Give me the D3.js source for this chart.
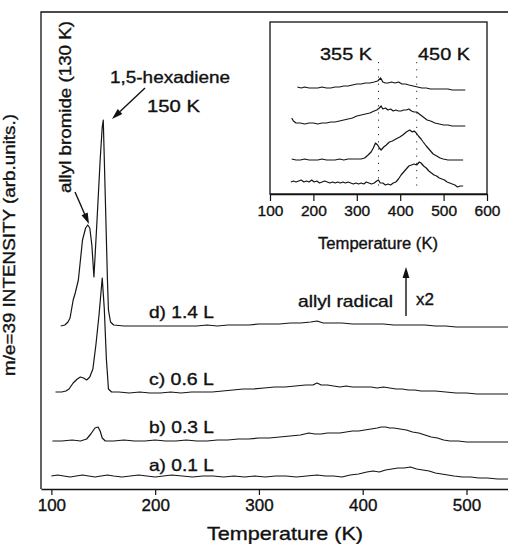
<!DOCTYPE html>
<html>
<head>
<meta charset="utf-8">
<script src="https://cdn.jsdelivr.net/npm/d3@7"></script>
<style>
  body { margin: 0; background: #fff; }
  svg { display: block; }
  text { font-family: "Liberation Sans", Arial, sans-serif; fill: #111; stroke: #111; stroke-width: 0.35px; }
</style>
</head>
<body>
<script>
'use strict'

// ---- main panel: m/e=39 TPD traces (temperature K, intensity arb. units incl. offset)
const traceA = [[100,0.13],[106,0.14],[112,0.13],[118,0.12],[124,0.13],[130,0.14],[136,0.13],[142,0.12],[148,0.13],[154,0.14],[160,0.13],[168,0.12],[176,0.13],[184,0.14],[192,0.13],[200,0.12],[208,0.13],[216,0.14],[226,0.13],[236,0.12],[246,0.13],[256,0.13],[266,0.12],[276,0.13],[286,0.12],[296,0.13],[306,0.12],[316,0.13],[326,0.13],[336,0.12],[346,0.13],[356,0.14],[364,0.13],[372,0.13],[380,0.12],[388,0.14],[396,0.15],[404,0.17],[410,0.18],[416,0.17],[422,0.19],[428,0.20],[434,0.21],[440,0.21],[446,0.22],[452,0.20],[458,0.19],[464,0.18],[470,0.16],[476,0.15],[482,0.14],[488,0.13],[496,0.12],[504,0.12],[512,0.11],[520,0.11],[530,0.10],[540,0.10]]

const traceB = [[101,0.48],[110,0.48],[120,0.49],[128,0.48],[134,0.50],[138,0.55],[142,0.61],[145,0.62],[147,0.58],[149,0.51],[152,0.48],[160,0.48],[170,0.49],[180,0.48],[190,0.48],[200,0.49],[210,0.48],[220,0.48],[230,0.49],[240,0.48],[250,0.48],[260,0.49],[270,0.49],[280,0.50],[290,0.50],[300,0.51],[310,0.51],[320,0.52],[330,0.53],[340,0.54],[348,0.56],[354,0.55],[360,0.55],[366,0.56],[372,0.56],[378,0.56],[384,0.57],[390,0.58],[396,0.58],[402,0.59],[408,0.60],[414,0.61],[418,0.62],[422,0.62],[426,0.61],[430,0.61],[436,0.60],[442,0.59],[448,0.57],[454,0.56],[460,0.54],[466,0.52],[472,0.51],[478,0.49],[484,0.48],[492,0.48],[500,0.47],[510,0.47],[520,0.47],[530,0.47],[540,0.47]]

const traceC = [[104,0.97],[110,0.97],[114,0.98],[117,1.00],[121,1.06],[125,1.10],[128,1.12],[131,1.11],[134,1.09],[137,1.12],[140,1.20],[143,1.45],[146,1.75],[149,2.11],[151,1.80],[153,1.30],[155,1.00],[158,0.97],[165,0.97],[175,0.96],[185,0.97],[195,0.96],[205,0.96],[215,0.97],[225,0.96],[235,0.97],[245,0.97],[255,0.97],[265,0.98],[275,0.99],[285,1.00],[295,1.00],[305,1.01],[315,1.02],[325,1.02],[335,1.03],[345,1.04],[352,1.04],[356,1.06],[360,1.04],[366,1.04],[372,1.03],[378,1.02],[384,1.03],[390,1.02],[396,1.02],[402,1.02],[408,1.02],[414,1.01],[420,1.02],[426,1.01],[432,1.00],[438,1.00],[444,0.99],[450,0.99],[456,0.98],[462,0.98],[470,0.98],[480,0.97],[490,0.96],[500,0.96],[510,0.95],[520,0.95],[530,0.95],[540,0.95]]

const traceD = [[109,1.63],[113,1.64],[116,1.67],[118,1.71],[121,1.89],[123,1.96],[126,2.09],[128,2.29],[130,2.49],[133,2.61],[135,2.64],[137,2.61],[139,2.44],[141,2.12],[144,2.69],[147,3.29],[149,3.62],[150,3.69],[152,2.90],[154,2.10],[155,1.79],[157,1.67],[160,1.64],[170,1.63],[180,1.63],[190,1.63],[200,1.63],[210,1.63],[220,1.63],[230,1.63],[240,1.63],[250,1.64],[260,1.63],[270,1.64],[280,1.64],[290,1.64],[300,1.65],[310,1.65],[320,1.65],[330,1.66],[340,1.66],[350,1.67],[356,1.68],[362,1.66],[370,1.66],[380,1.66],[390,1.65],[400,1.65],[410,1.65],[420,1.65],[430,1.64],[440,1.64],[450,1.64],[460,1.64],[470,1.63],[480,1.63],[490,1.62],[500,1.62],[510,1.62],[520,1.62],[530,1.62],[540,1.62]]

const traceLabels = ['a) 0.1 L', 'b) 0.3 L', 'c) 0.6 L', 'd) 1.4 L']
const labelLevels = [0.18, 0.56, 1.04, 1.71]   // intensity level the label sits on
const xTicks = [100, 200, 300, 400, 500]

// ---- inset: allyl radical region (x2)
const inset1 = [[163,1.07],[172,1.06],[180,1.07],[190,1.06],[200,1.06],[210,1.06],[220,1.07],[230,1.06],[240,1.06],[250,1.07],[260,1.07],[270,1.08],[280,1.08],[290,1.09],[300,1.10],[310,1.10],[320,1.11],[330,1.11],[340,1.12],[348,1.13],[355,1.16],[360,1.12],[366,1.11],[372,1.11],[380,1.12],[388,1.11],[396,1.12],[404,1.10],[412,1.10],[420,1.09],[430,1.08],[440,1.07],[450,1.06],[460,1.06],[470,1.05],[480,1.05],[490,1.05],[500,1.05],[510,1.05],[520,1.04],[530,1.04],[540,1.04],[550,1.04]]

const inset2 = [[150,0.76],[154,0.73],[160,0.71],[170,0.71],[180,0.70],[190,0.71],[200,0.71],[210,0.70],[220,0.71],[230,0.71],[240,0.72],[250,0.72],[260,0.73],[270,0.74],[280,0.75],[290,0.76],[300,0.78],[310,0.79],[320,0.80],[330,0.81],[340,0.83],[346,0.84],[352,0.86],[356,0.88],[360,0.85],[366,0.86],[372,0.84],[378,0.85],[384,0.83],[390,0.84],[396,0.83],[402,0.83],[408,0.84],[414,0.84],[420,0.85],[426,0.83],[432,0.82],[438,0.82],[444,0.80],[450,0.78],[456,0.76],[462,0.74],[470,0.73],[480,0.71],[490,0.70],[500,0.69],[510,0.69],[520,0.68],[530,0.68],[540,0.68],[550,0.68]]

const inset3 = [[150,0.35],[160,0.34],[170,0.34],[180,0.35],[190,0.34],[200,0.34],[210,0.34],[220,0.35],[230,0.34],[240,0.34],[250,0.34],[260,0.35],[270,0.34],[280,0.35],[290,0.35],[300,0.35],[310,0.35],[318,0.36],[326,0.39],[333,0.42],[338,0.46],[343,0.51],[348,0.49],[352,0.46],[356,0.44],[362,0.47],[368,0.49],[375,0.52],[382,0.53],[390,0.55],[399,0.57],[406,0.59],[414,0.62],[418,0.63],[422,0.64],[428,0.62],[432,0.63],[437,0.61],[442,0.58],[448,0.55],[453,0.52],[460,0.48],[468,0.44],[476,0.40],[484,0.38],[492,0.36],[499,0.35],[510,0.34],[520,0.34],[530,0.34],[545,0.34]]

const inset4 = [[148,0.12],[154,0.13],[160,0.12],[166,0.13],[172,0.14],[178,0.12],[184,0.13],[190,0.12],[196,0.14],[202,0.12],[208,0.13],[214,0.11],[220,0.12],[226,0.13],[232,0.12],[238,0.11],[244,0.12],[250,0.11],[256,0.12],[262,0.11],[268,0.12],[274,0.11],[280,0.12],[286,0.11],[292,0.10],[298,0.11],[304,0.10],[310,0.11],[316,0.10],[322,0.12],[328,0.11],[334,0.10],[340,0.11],[346,0.13],[350,0.14],[354,0.11],[360,0.11],[366,0.09],[372,0.10],[378,0.09],[384,0.11],[390,0.12],[396,0.15],[402,0.19],[408,0.22],[414,0.25],[420,0.28],[426,0.29],[432,0.30],[438,0.29],[444,0.32],[448,0.31],[454,0.28],[460,0.26],[466,0.23],[472,0.21],[478,0.19],[484,0.18],[490,0.16],[496,0.15],[502,0.14],[508,0.12],[514,0.11],[520,0.10],[526,0.09],[532,0.07],[538,0.08],[545,0.08]]

const insetTicks = [100, 200, 300, 400, 500, 600]
const peakLines = [350, 438]          // dotted markers as drawn
const peakLabels = ['355 K', '450 K']

const W = 508, H = 544
const FONT = '"Liberation Sans", Arial, sans-serif'

const svg = d3.select('body').append('svg')
  .attr('width', W).attr('height', H)

svg.append('rect').attr('width', W).attr('height', H).attr('fill', '#fff')

// scales
const x = d3.scaleLinear().domain([90, 540]).range([41, 508])
const y = d3.scaleLinear().domain([0, 4.77]).range([489, 12])
const xi = d3.scaleLinear().domain([100, 600]).range([270, 487])
const yi = d3.scaleLinear().domain([0, 1.72]).range([194, 22])

const line = d3.line().x(d => x(d[0])).y(d => y(d[1]))
const lineI = d3.line().x(d => xi(d[0])).y(d => yi(d[1]))

// frame (no right border, it runs off the page)
svg.append('path')
  .attr('d', `M${W},${y.range()[1]}H${x.range()[0]}V${y.range()[0]}`)
  .attr('fill', 'none').attr('stroke', '#111').attr('stroke-width', 1.3)

const xAxis = svg.append('g')
  .attr('transform', `translate(0,${y.range()[0]})`)
  .call(d3.axisBottom(x).tickValues(xTicks).tickSize(6).tickSizeOuter(0).tickPadding(4))
xAxis.select('.domain').attr('stroke', '#111').attr('stroke-width', 1.3)
xAxis.selectAll('.tick line').attr('stroke', '#111').attr('stroke-width', 1.2)
xAxis.selectAll('.tick text').attr('font-family', FONT).attr('font-size', 17).attr('fill', '#111')

// traces
const traces = [traceA, traceB, traceC, traceD]
svg.append('g').selectAll('path').data(traces).enter().append('path')
  .attr('d', line)
  .attr('fill', 'none').attr('stroke', '#151515').attr('stroke-width', 1.2)
  .attr('stroke-linejoin', 'round')

svg.append('g').selectAll('text').data(traceLabels).enter().append('text')
  .attr('x', x(194))
  .attr('y', (d, i) => y(labelLevels[i]))
  .attr('font-size', 16.5)
  .attr('textLength', 65).attr('lengthAdjust', 'spacingAndGlyphs')
  .text(d => d)

// axis titles
svg.append('text')
  .attr('x', 285).attr('y', 540)
  .attr('text-anchor', 'middle').attr('font-size', 19)
  .attr('textLength', 156).attr('lengthAdjust', 'spacingAndGlyphs')
  .text('Temperature (K)')

svg.append('text')
  .attr('transform', 'translate(15,245) rotate(-90)')
  .attr('text-anchor', 'middle').attr('font-size', 17)
  .attr('textLength', 262).attr('lengthAdjust', 'spacingAndGlyphs')
  .text('m/e=39 INTENSITY (arb.units.)')

// annotations
const arrow = (g, x1, y1, x2, y2, head) => {
  const a = Math.atan2(y2 - y1, x2 - x1)
  const len = head || 10, wid = 3.4
  const bx = x2 - len * Math.cos(a), by = y2 - len * Math.sin(a)
  g.append('line')
    .attr('x1', x1).attr('y1', y1).attr('x2', bx).attr('y2', by)
    .attr('stroke', '#111').attr('stroke-width', 1.4)
  g.append('polygon')
    .attr('points', [
      [x2, y2],
      [bx + wid * Math.sin(a), by - wid * Math.cos(a)],
      [bx - wid * Math.sin(a), by + wid * Math.cos(a)]
    ].map(p => p.join(',')).join(' '))
    .attr('fill', '#111')
}

const notes = svg.append('g')
notes.append('text')
  .attr('x', 110).attr('y', 83).attr('font-size', 16.5)
  .attr('textLength', 120).attr('lengthAdjust', 'spacingAndGlyphs')
  .text('1,5-hexadiene')
notes.append('text')
  .attr('x', 147).attr('y', 112).attr('font-size', 16.5)
  .attr('textLength', 53).attr('lengthAdjust', 'spacingAndGlyphs')
  .text('150 K')
arrow(notes, 145, 88, 112, 119, 11)

notes.append('text')
  .attr('transform', 'translate(71,107) rotate(-90)')
  .attr('text-anchor', 'middle').attr('font-size', 16)
  .attr('textLength', 172).attr('lengthAdjust', 'spacingAndGlyphs')
  .text('allyl bromide (130 K)')
arrow(notes, 75, 192, 89, 224, 11)

notes.append('text')
  .attr('x', 298).attr('y', 307).attr('font-size', 17)
  .attr('textLength', 95).attr('lengthAdjust', 'spacingAndGlyphs')
  .text('allyl radical')
notes.append('text')
  .attr('x', 416).attr('y', 305).attr('font-size', 17)
  .text('x2')
arrow(notes, 406, 316, 406, 267, 11)

// ---- inset
const inset = svg.append('g')
inset.append('rect')
  .attr('x', xi.range()[0]).attr('y', yi.range()[1])
  .attr('width', xi.range()[1] - xi.range()[0])
  .attr('height', yi.range()[0] - yi.range()[1])
  .attr('fill', '#fff').attr('stroke', '#111').attr('stroke-width', 1.3)

const xAxisI = inset.append('g')
  .attr('transform', `translate(0,${yi.range()[0]})`)
  .call(d3.axisBottom(xi).tickValues(insetTicks).tickSize(7).tickSizeOuter(0).tickPadding(4))
xAxisI.select('.domain').attr('stroke', '#111').attr('stroke-width', 1.3)
xAxisI.selectAll('.tick line').attr('stroke', '#111').attr('stroke-width', 1.2)
xAxisI.selectAll('.tick text').attr('font-family', FONT).attr('font-size', 15.5).attr('fill', '#111')

inset.append('text')
  .attr('x', 378).attr('y', 249)
  .attr('text-anchor', 'middle').attr('font-size', 16)
  .attr('textLength', 120).attr('lengthAdjust', 'spacingAndGlyphs')
  .text('Temperature (K)')

inset.append('g').selectAll('line').data(peakLines).enter().append('line')
  .attr('x1', d => xi(d)).attr('x2', d => xi(d))
  .attr('y1', 62).attr('y2', 190)
  .attr('stroke', '#333').attr('stroke-width', 1)
  .attr('stroke-dasharray', '1.2,6')

inset.append('g').selectAll('text').data(peakLabels).enter().append('text')
  .attr('x', (d, i) => [320, 418][i]).attr('y', 60)
  .attr('font-size', 17)
  .attr('textLength', 52).attr('lengthAdjust', 'spacingAndGlyphs')
  .text(d => d)

inset.append('g').selectAll('path').data([inset1, inset2, inset3, inset4]).enter().append('path')
  .attr('d', lineI)
  .attr('fill', 'none').attr('stroke', '#151515').attr('stroke-width', 1.2)
  .attr('stroke-linejoin', 'round')
</script>
</body>
</html>
